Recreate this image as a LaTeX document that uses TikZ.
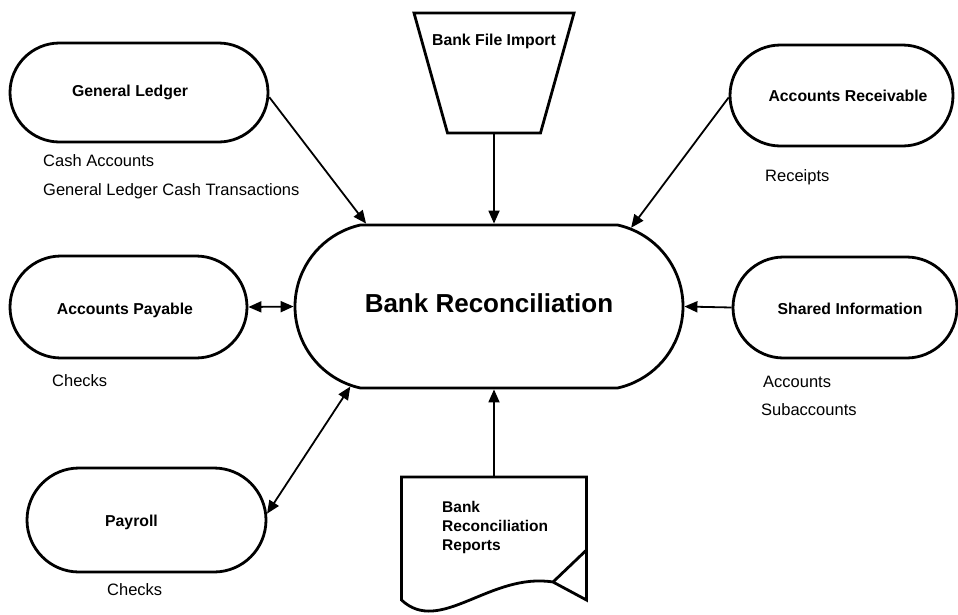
\documentclass[tikz,border=0pt]{standalone}
\usepackage{fontspec}
\setmainfont{Liberation Sans}
\usetikzlibrary{shapes.misc,arrows.meta,calc}
\begin{document}
\begin{tikzpicture}[x=1pt,y=-1pt,
  box/.style={rounded rectangle, draw, line width=2.8pt, inner sep=0pt},
  boxtext/.style={font=\fontsize{15.8}{19}\selectfont\bfseries, inner sep=0pt},
  lbl/.style={anchor=west, inner sep=0pt, font=\fontsize{16.5}{19}\selectfont},
  shapeline/.style={line width=2.8pt, line join=miter},
  conn/.style={line width=1.8pt, -{Triangle[length=13pt,width=11pt]}},
  biconn/.style={line width=1.8pt, {Triangle[length=13pt,width=11pt]}-{Triangle[length=13pt,width=11pt]}},
]
\useasboundingbox (0,0) rectangle (958,614);

% central node
\node[box, rounded rectangle arc length=155, minimum width=388pt, minimum height=163pt,
  label={[font=\fontsize{26}{30}\selectfont\bfseries, inner sep=0pt, yshift=3.5pt]center:Bank Reconciliation}] (br) at (489,306.5) {};

% surrounding nodes
\node[box, minimum width=258pt, minimum height=99pt,
  label={[boxtext, xshift=-9pt]center:General Ledger}] (gl) at (139,92.5) {};
\node[box, minimum width=237pt, minimum height=102pt,
  label={[boxtext, xshift=-3.5pt, yshift=-3pt]center:Accounts Payable}] (ap) at (128.5,307) {};
\node[box, minimum width=239pt, minimum height=104pt,
  label={[boxtext, xshift=-15pt, yshift=-2pt]center:Payroll}] (pay) at (146.5,520) {};
\node[box, minimum width=223pt, minimum height=101pt,
  label={[boxtext, xshift=6.5pt]center:Accounts Receivable}] (ar) at (841.5,95.5) {};
\node[box, minimum width=224pt, minimum height=101pt,
  label={[boxtext, xshift=5pt, yshift=-1.5pt]center:Shared Information}] (sh) at (845,307.5) {};

% bank file import (trapezium)
\node[minimum width=93pt, minimum height=120pt, inner sep=0pt, anchor=south,
  label={[boxtext, yshift=31pt]center:Bank File Import}] (bfi) at (494,133) {};
\draw[shapeline] (414,13) -- (574,13) -- (540.5,133) -- (447.5,133) -- cycle;

% report document
\node[minimum width=185pt, minimum height=123pt, anchor=north, inner sep=0pt] (rep) at (494,477) {};
\draw[shapeline] (401.5,600) -- (401.5,477) -- (586.5,477) -- (586.5,600) -- (553,582)
  .. controls (490,572) and (440,636) .. (401.5,600) -- cycle;
\draw[shapeline] (553,582) -- (586.5,550);
\node[anchor=west, align=left, inner sep=0pt, font=\fontsize{15.5}{19}\selectfont\bfseries] (reptext) at (442,527) {Bank\\Reconciliation\\Reports};

% text labels
\node[lbl] (glt1) at (43,161) {Cash Accounts};
\node[lbl] (glt2) at (43,191) {General Ledger Cash Transactions};
\node[lbl] (art1) at (765,177) {Receipts};
\node[lbl] (apt1) at (52,381) {Checks};
\node[lbl] (payt1) at (107,590) {Checks};
\node[lbl] (sht1) at (763,382) {Accounts};
\node[lbl] (sht2) at (761,410) {Subaccounts};

% connectors
\draw[conn] (gl.-2) -- (br.146.8);
\draw[biconn] (ap.east) -- (br.west);
\draw[biconn] (pay.3.4) -- (br.210);
\draw[conn] (bfi.south) -- (bfi.south |- br.north);
\draw[conn] (ar.181.3) -- (br.29.7);
\draw[conn] (sh.west) -- (br.east);
\draw[conn] (rep.north) -- (rep.north |- br.south);
\end{tikzpicture}
\end{document}
